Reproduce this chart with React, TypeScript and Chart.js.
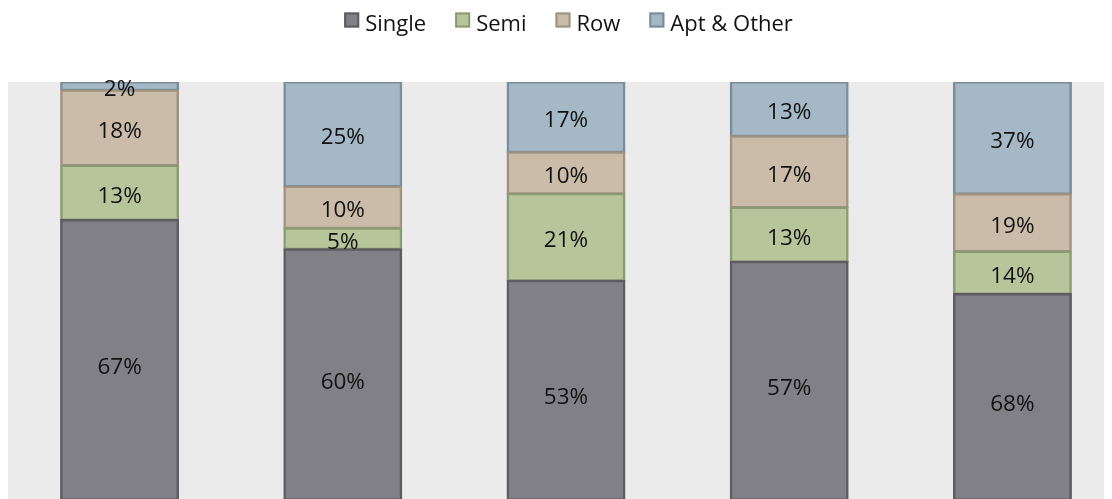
import React, { useEffect, useRef } from "react";
import { Chart, registerables } from "chart.js";

Chart.register(...registerables);

const categories = ["A", "B", "C", "D", "E"];
const seriesNames = ["Single", "Semi", "Row", "Apt & Other"];
const singleValues = [67, 60, 53, 57, 68];
const semiValues = [13, 5, 21, 13, 14];
const rowValues = [18, 10, 10, 17, 19];
const aptValues = [2, 25, 17, 13, 37];

const fills = ["#818087", "#b7c59b", "#cbbca9", "#a4b8c6"];
const borders = ["#5c5c61", "#8c9a73", "#9e9383", "#7b8d9b"];

const FONT = "'Open Sans', sans-serif";

export default function App() {
  const ref = useRef<HTMLCanvasElement | null>(null);

  useEffect(() => {
    if (!ref.current) return;
    const raw = [singleValues, semiValues, rowValues, aptValues];
    const totals = categories.map((_, i) => raw.reduce((s, arr) => s + arr[i], 0));
    const shares = raw.map((arr) => arr.map((v, i) => (v / totals[i]) * 100));

    const bgPlugin = {
      id: "plotBg",
      beforeDraw(chart: any) {
        const { ctx, chartArea } = chart;
        ctx.save();
        ctx.fillStyle = "#ebebeb";
        ctx.fillRect(chartArea.left, chartArea.top, chartArea.right - chartArea.left, chart.height - chartArea.top);
        ctx.restore();
      },
    };

    const labelPlugin = {
      id: "segLabels",
      afterDatasetsDraw(chart: any) {
        const { ctx } = chart;
        ctx.save();
        ctx.font = `22.5px ${FONT}`;
        ctx.fillStyle = "#111";
        ctx.textAlign = "center";
        ctx.textBaseline = "alphabetic";
        chart.data.datasets.forEach((ds: any, di: number) => {
          const meta = chart.getDatasetMeta(di);
          meta.data.forEach((bar: any, i: number) => {
            const y = (bar.y + bar.base) / 2 + (di === 0 ? 4 : 0);
            ctx.fillText(raw[di][i] + "%", bar.x, y + 10);
          });
        });
        ctx.restore();
      },
    };

    const legendPlugin = {
      id: "customLegend",
      afterDraw(chart: any) {
        const { ctx } = chart;
        ctx.save();
        ctx.font = `22px ${FONT}`;
        ctx.textBaseline = "alphabetic";
        ctx.textAlign = "left";
        const box = 15;
        const gapBox = 6;
        const gapItem = 29;
        const widths = seriesNames.map((n) => box + gapBox + ctx.measureText(n).width);
        const total = widths.reduce((a, b) => a + b, 0) + gapItem * (seriesNames.length - 1);
        let x = 560.5 - total / 2;
        seriesNames.forEach((n, i) => {
          ctx.fillStyle = fills[i];
          ctx.fillRect(x, 4.5, box, box);
          ctx.strokeStyle = borders[i];
          ctx.lineWidth = 2;
          ctx.strokeRect(x + 1, 5.5, box - 2, box - 2);
          ctx.fillStyle = "#111";
          ctx.fillText(n, x + box + gapBox, 23);
          x += widths[i] + gapItem;
        });
        ctx.restore();
      },
    };

    const chart = new Chart(ref.current, {
      type: "bar",
      data: {
        labels: categories,
        datasets: seriesNames.map((name, i) => ({
          label: name,
          data: shares[i],
          backgroundColor: fills[i],
          borderColor: borders[i],
          borderWidth: 2.5,
          borderSkipped: false,
          inflateAmount: 1,
          categoryPercentage: 1,
          barPercentage: 0.524,
        })),
      },
      options: {
        responsive: false,
        animation: false,
        layout: { padding: { top: 74, bottom: 48, left: 0, right: 4 } },
        plugins: { legend: { display: false }, tooltip: { enabled: false } },
        scales: {
          x: { stacked: true, display: false },
          y: { stacked: true, display: false, min: 0, max: 100 },
        },
      },
      plugins: [bgPlugin, labelPlugin, legendPlugin],
    });
    return () => chart.destroy();
  }, []);

  return (
    <div style={{ width: 1104, height: 491, overflow: "hidden", position: "relative" }}>
      <canvas ref={ref} width={1120} height={540} style={{ display: "block" }} />
    </div>
  );
}
